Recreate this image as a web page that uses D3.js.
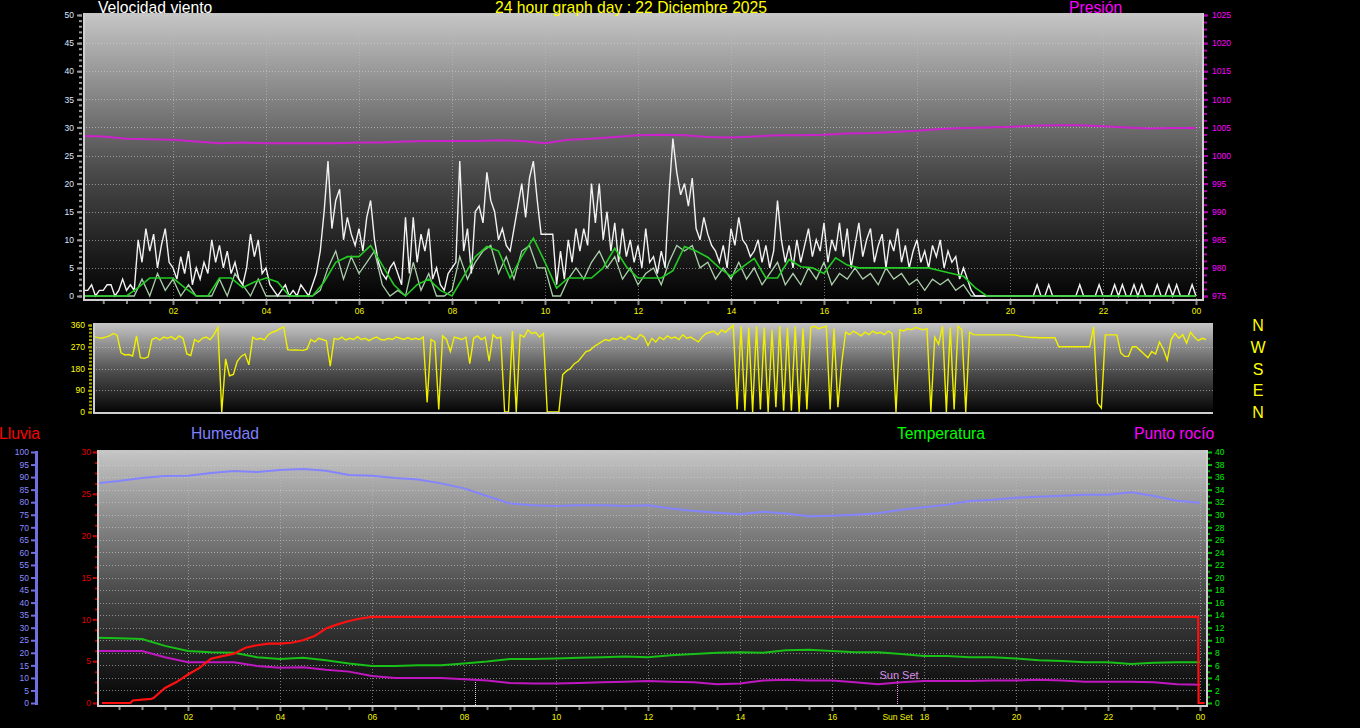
<!DOCTYPE html>
<html><head><meta charset="utf-8">
<script src="https://cdn.jsdelivr.net/npm/d3@7"></script>
<style>html,body{margin:0;padding:0;background:#000;overflow:hidden}svg{display:block}</style>
</head><body><svg id="c" width="1360" height="728"></svg>
<script>
// ---------------- DATA ----------------
const hourTicks = [2,4,6,8,10,12,14,16,18,20,22,24];
const hourLabels = ["02","04","06","08","10","12","14","16","18","20","22","00"];
const windTicks = [0,5,10,15,20,25,30,35,40,45,50];
const pressTicks = [975,980,985,990,995,1000,1005,1010,1015,1020,1025];
const dirTicks = [0,90,180,270,360];
const compass = ["N","W","S","E","N"];
const rainTicks = [0,5,10,15,20,25,30];
const humTicks = [0,5,10,15,20,25,30,35,40,45,50,55,60,65,70,75,80,85,90,95,100];
const tempTicks = [0,2,4,6,8,10,12,14,16,18,20,22,24,26,28,30,32,34,36,38,40];

// wind gust, every 5 minutes (km/h)
const gust = [
 0,1,1,2,0,1,1,2,2,0,1,3,
 1,2,1,10,6,12,8,11,5,9,12,6,
 5,3,7,4,8,2,5,3,6,4,10,6,
 9,5,8,4,6,3,2,5,11,7,10,4,
 5,2,1,0,1,2,0,1,0,2,1,0,
 2,4,8,15,24,12,17,19,10,14,11,9,
 12,8,14,17,10,6,4,3,5,6,4,2,
 14,4,14,6,11,8,12,3,5,2,1,4,
 5,6,24,8,12,4,15,16,13,22,17,15,
 10,12,9,8,12,16,20,14,21,24,17,11,
 11,11,11,2,8,3,10,6,12,8,12,9,
 20,13,20,10,15,8,13,6,12,7,10,6,
 9,5,12,6,7,4,8,5,18,28,22,18,
 20,16,21,12,10,14,11,9,8,6,9,5,
 12,9,14,10,9,7,8,10,6,9,5,8,
 17,10,6,9,5,10,6,9,12,7,10,8,
 13,6,10,8,13,7,12,5,9,13,7,10,
 12,6,9,11,5,10,8,12,6,9,5,8,
 10,6,8,5,9,7,10,5,8,6,7,3,
 5,3,1,0,0,0,0,0,0,0,0,0,
 0,0,0,0,0,0,0,2,0,0,2,0,
 0,0,0,0,0,0,2,0,0,0,0,2,
 0,0,0,2,0,2,0,0,2,0,2,0,
 0,0,2,0,0,2,0,2,0,0,0,2,
 0];
// wind speed, every 10 minutes
const speed = [
 0,0,0,0,0,0, 0,0,3,0,4,1, 3,0,2,0,0,0, 3,0,4,2,0,3,
 0,0,0,0,0,0, 0,1,5,8,3,7, 4,6,8,2,0,1, 0,6,1,4,0,0,
 1,7,3,6,8,9, 4,7,3,8,9,5, 5,0,0,3,5,3, 6,8,5,7,3,5,
 2,4,5,2,6,9, 8,9,5,6,3,5, 3,6,3,5,2,4, 6,2,4,2,5,3,
 6,2,4,3,5,3, 4,2,5,3,4,2, 3,1,3,2,3,1, 2,0,0,0,0,0,
 0,0,0,0,0,0, 0,0,0,0,0,0, 0,0,0,0,0,0, 0,0,0,0,0,0,
 0];
// average wind speed, every 15 minutes
const avgWind = [
 0,0,0,0, 0,1.5,3.2,3.2, 3.2,1.5,0,0, 3.2,3.2,1.5,2.5,
 3.2,2.5,0,0, 0,2.5,6,7, 7,9,5.5,2, 0,2,3,1,
 0,3.5,7,8.8, 8,3.2,7,10.3, 6,1.4,3.2,3.2, 3.2,5,8.5,5.2,
 3.2,3.2,3.2,4.5, 8.8,8,6.9,5, 3.5,5.2,6.7,3.2, 3.2,6.5,5.2,5,
 4,6.8,5.5,5, 5,5,5,5, 5,5,4.5,4, 3.5,1.5,0,0,
 0,0,0,0, 0,0,0,0, 0,0,0,0, 0,0,0,0,
 0];
// pressure, every 30 minutes (hPa)
const pressure = [
 1003.5,1003.4,1003.0,1002.9,1002.8,1002.5,1002.2,1002.3,1002.2,1002.2,1002.2,1002.2,
 1002.3,1002.3,1002.5,1002.6,1002.6,1002.6,1002.7,1002.6,1002.2,1002.8,1003.0,1003.3,
 1003.6,1003.7,1003.6,1003.3,1003.2,1003.4,1003.6,1003.6,1003.7,1003.9,1004.0,1004.2,
 1004.4,1004.7,1004.9,1005.0,1005.1,1005.3,1005.4,1005.4,1005.2,1005.0,1004.8,1004.9,
 1004.9];
// wind direction, every 5 minutes (degrees)
const direction = [
 310,312,308,305,310,315,325,318,245,236,238,232,
 315,225,222,228,300,308,298,310,305,312,300,315,
 305,240,234,300,290,305,310,300,320,350,0,220,
 150,155,210,230,240,195,310,300,305,298,320,330,
 335,345,352,258,256,257,256,255,260,300,290,305,
 300,295,190,305,300,310,298,305,300,312,300,305,
 295,305,310,300,298,305,300,310,305,300,308,300,
 305,300,310,40,300,290,10,315,300,250,310,305,
 300,310,200,305,315,300,310,210,320,305,310,0,
 0,335,0,320,310,340,325,330,310,325,0,0,
 0,0,155,170,180,200,210,230,250,255,270,280,
 290,300,295,305,300,310,300,315,305,300,320,310,
 275,305,290,310,300,315,305,310,300,320,305,310,
 300,290,310,325,330,335,320,340,330,345,358,10,
 355,5,350,0,355,10,350,0,340,20,355,5,
 350,5,355,0,345,10,350,355,345,350,355,10,
 345,20,205,330,320,335,325,315,330,320,335,325,
 330,320,335,325,0,340,335,345,340,350,345,340,
 345,0,310,280,355,0,350,10,355,340,0,330,
 320,319,319,319,319,319,319,319,319,319,319,318,
 314,312,310,308,308,307,307,307,307,307,270,270,
 270,270,270,270,270,270,270,352,37,16,319,319,
 319,319,245,230,230,270,270,255,240,225,250,240,
 290,260,215,300,325,305,320,285,330,310,295,305,
 300];
// humidity, temperature, dew point every 30 minutes
const humidity = [
 87.5,88.4,89.6,90.4,90.5,91.6,92.4,92.0,92.8,93.2,92.5,90.8,90.5,89.6,89.0,87.5,
 85.5,82.5,79.5,78.8,78.5,78.8,78.8,78.5,78.8,77.5,76.5,75.8,75.2,76.2,75.5,74.4,
 74.6,75.0,75.6,77.0,78.0,79.0,80.5,81.0,81.8,82.2,82.6,83.0,83.0,84.0,82.5,80.6,
 79.8];
const temperature = [
 10.4,10.3,10.2,9.1,8.3,8.1,8.0,7.3,7.0,7.2,6.8,6.3,5.9,5.9,6.0,6.0,
 6.3,6.6,7.0,7.0,7.1,7.2,7.3,7.4,7.3,7.6,7.8,8.0,8.1,8.0,8.4,8.5,
 8.3,8.1,8.1,7.8,7.5,7.5,7.3,7.3,7.1,6.8,6.7,6.5,6.5,6.2,6.4,6.5,
 6.5];
const dewPoint = [
 8.3,8.3,8.3,7.3,6.5,6.5,6.5,5.9,5.6,5.7,5.3,5.0,4.3,4.0,4.0,4.0,
 3.8,3.6,3.2,3.1,3.1,3.2,3.3,3.4,3.5,3.4,3.3,3.0,3.1,3.6,3.7,3.6,
 3.6,3.3,3.0,3.3,3.5,3.5,3.5,3.6,3.6,3.7,3.6,3.4,3.4,3.4,3.3,3.0,
 2.9];
// rain accumulation (mm): hour, value
const rainHours = [0.13,0.75,0.8,1.0,1.2,1.25,1.5,1.75,2.0,2.25,2.5,2.75,3.0,3.25,3.5,3.75,4.0,4.25,4.5,4.75,5.0,5.25,5.5,5.75,6.0,6.25,23.96,23.97,24.1];
const rainValues = [0,0,0.3,0.4,0.5,0.6,1.8,2.5,3.4,4.2,5.3,5.6,5.9,6.6,6.9,7.1,7.1,7.2,7.5,8.0,8.9,9.4,9.8,10.1,10.3,10.3,10.3,0,0];
const sunSetHour = 17.41;
const sunRiseHour = 8.24;

// ---------------- DRAW ----------------
const svg = d3.select("#c");
const defs = svg.append("defs");
const grad = defs.append("linearGradient").attr("id","bg").attr("x1",0).attr("y1",0).attr("x2",0).attr("y2",1);
grad.append("stop").attr("offset","0%").attr("stop-color","#c6c6c6");
grad.append("stop").attr("offset","55%").attr("stop-color","#4a4a4a");
grad.append("stop").attr("offset","100%").attr("stop-color","#020202");

const FONT = "'Liberation Sans', Arial, sans-serif";

function panel(id, x0, y0, x1, y1) {
  defs.append("clipPath").attr("id", id).append("rect")
    .attr("x", x0).attr("y", y0).attr("width", x1 - x0).attr("height", y1 - y0);
  svg.append("rect").attr("x", x0).attr("y", y0).attr("width", x1 - x0).attr("height", y1 - y0)
    .attr("fill", "url(#bg)");
  return svg.append("g").attr("clip-path", `url(#${id})`);
}
function frame(x0, y0, x1, y1, right) {
  const g = svg.append("g").attr("stroke", "#cfcfcf").attr("stroke-width", 2).attr("fill", "none");
  g.append("line").attr("x1", x0 + 1).attr("x2", x0 + 1).attr("y1", y0).attr("y2", y1);
  g.append("line").attr("x1", x0).attr("x2", x1).attr("y1", y1 - 1).attr("y2", y1 - 1);
  if (right) g.append("line").attr("x1", x1 - 1).attr("x2", x1 - 1).attr("y1", y0).attr("y2", y1);
}
function hGrid(g, scale, vals, x0, x1) {
  g.selectAll(null).data(vals).join("line")
    .attr("x1", x0).attr("x2", x1).attr("y1", d => Math.round(scale(d)) + 0.5).attr("y2", d => Math.round(scale(d)) + 0.5)
    .attr("stroke", "#d8d8d8").attr("stroke-opacity", 0.55).attr("stroke-dasharray", "1,2");
}
function vGrid(g, scale, y0, y1) {
  g.selectAll(null).data(hourTicks).join("line")
    .attr("x1", d => Math.round(scale(d)) + 0.5).attr("x2", d => Math.round(scale(d)) + 0.5).attr("y1", y0).attr("y2", y1)
    .attr("stroke", "#bdbdbd").attr("stroke-opacity", 0.6).attr("stroke-dasharray", "1,2");
}
function styleAxis(g, tickColor, textColor, fontSize) {
  g.select(".domain").remove();
  g.selectAll(".tick line").attr("stroke", tickColor).attr("stroke-width", 2);
  g.selectAll(".tick text").attr("fill", textColor).attr("font-family", FONT).attr("font-size", fontSize);
}
function minorAxis(axisFn, scale, x, vals, color, size) {
  const g = svg.append("g").attr("transform", `translate(${x},0)`)
    .call(axisFn(scale).tickValues(vals).tickSize(size).tickFormat(""));
  g.select(".domain").remove();
  g.selectAll(".tick line").attr("stroke", color).attr("stroke-width", 2);
}
function xAxis(scale, y, labels) {
  const g = svg.append("g").attr("transform", `translate(0,${y})`)
    .call(d3.axisBottom(scale).tickValues(hourTicks).tickSize(4).tickPadding(3).tickFormat((d, i) => labels[i]));
  styleAxis(g, "#8a8a8a", "#f4f400", "8.5px");
  const halves = d3.range(0.5, 24.01, 0.5).filter(h => h % 2 !== 0);
  const m = svg.append("g").attr("transform", `translate(0,${y})`)
    .call(d3.axisBottom(scale).tickValues(halves).tickSize(3).tickFormat(""));
  m.select(".domain").remove();
  m.selectAll(".tick line").attr("stroke", "#8a8a8a").attr("stroke-width", 2);
}
function title(x, y, txt, color, anchor) {
  svg.append("text").attr("x", x).attr("y", y).text(txt).attr("fill", color)
    .attr("font-family", FONT).attr("font-size", "15.7px").attr("text-anchor", anchor || "start");
}
const intFmt = d3.format("d");

// ===== TOP PANEL (wind + pressure) =====
const T = {x0: 83, y0: 13, x1: 1204, y1: 301};
const xTop = d3.scaleLinear([0, 24], [80, 1196]);
const yWind = d3.scaleLinear([0, 50], [296, 15]);
const yPress = d3.scaleLinear([975, 1025], [296, 15]);
const gTop = panel("cTop", T.x0, T.y0, T.x1, T.y1);
hGrid(gTop, yWind, windTicks.slice(1), T.x0, T.x1);
vGrid(gTop, xTop, T.y0, T.y1);

const lineP = d3.line().x((d, i) => xTop(i * 0.5)).y(d => yPress(d));
gTop.append("path").attr("d", lineP(pressure)).attr("fill", "none").attr("stroke", "#cc22cc").attr("stroke-width", 2);
const lineS = d3.line().x((d, i) => xTop(i / 6)).y(d => yWind(d));
gTop.append("path").attr("d", lineS(speed)).attr("fill", "none").attr("stroke", "#c4f0c4").attr("stroke-opacity", 0.85).attr("stroke-width", 1.3);
const lineG = d3.line().x((d, i) => xTop(i / 12)).y(d => yWind(d));
gTop.append("path").attr("d", lineG(gust)).attr("fill", "none").attr("stroke", "#f2f2f2").attr("stroke-width", 1.4);
const lineA = d3.line().x((d, i) => xTop(i / 4)).y(d => yWind(d));
gTop.append("path").attr("d", lineA(avgWind)).attr("fill", "none").attr("stroke", "#22cc22").attr("stroke-width", 1.6);
frame(T.x0, T.y0, T.x1, T.y1, true);

let ax = svg.append("g").attr("transform", "translate(82,0)")
  .call(d3.axisLeft(yWind).tickValues(windTicks).tickSize(5).tickPadding(3).tickFormat(intFmt));
styleAxis(ax, "#9a9a9a", "#dde6ff", "8.5px");
minorAxis(d3.axisLeft, yWind, 82, d3.range(0, 50.1, 1), "#9a9a9a", 3);
ax = svg.append("g").attr("transform", "translate(1204,0)")
  .call(d3.axisRight(yPress).tickValues(pressTicks).tickSize(4).tickPadding(4).tickFormat(intFmt));
styleAxis(ax, "#b000b0", "#ff00ff", "8.5px");
minorAxis(d3.axisRight, yPress, 1204, d3.range(975, 1025.1, 1.25), "#b000b0", 3);
xAxis(xTop, 301, hourLabels);

title(98, 13, "Velocidad viento", "#ffffff");
title(631, 13, "24 hour graph day : 22 Diciembre 2025", "#ffff00", "middle");
title(1069, 13, "Presión", "#ff00ff");

// ===== MIDDLE PANEL (direction) =====
const M = {x0: 93, y0: 323, x1: 1213, y1: 414};
const xMid = d3.scaleLinear([0, 24], [90, 1206]);
const yDir = d3.scaleLinear([0, 360], [412, 325]);
const gMid = panel("cMid", M.x0, M.y0, M.x1, M.y1);
hGrid(gMid, yDir, [90, 180, 270], M.x0, M.x1);
const lineD = d3.line().x((d, i) => xMid(i / 12)).y(d => yDir(d));
gMid.append("path").attr("d", lineD(direction)).attr("fill", "none").attr("stroke", "#f0f000").attr("stroke-width", 1.4);
frame(M.x0, M.y0, M.x1, M.y1, false);
ax = svg.append("g").attr("transform", "translate(92,0)")
  .call(d3.axisLeft(yDir).tickValues(dirTicks).tickSize(4).tickPadding(3).tickFormat(intFmt));
styleAxis(ax, "#a8a800", "#ffff00", "8.5px");
minorAxis(d3.axisLeft, yDir, 92, d3.range(0, 360.1, 15), "#a8a800", 3);
svg.selectAll(null).data(compass).join("text")
  .attr("x", 1258).attr("y", (d, i) => 331 + i * 21.8).attr("text-anchor", "middle")
  .attr("fill", "#ffff00").attr("font-family", FONT).attr("font-size", "16px").text(d => d);

// ===== BOTTOM PANEL (rain, humidity, temperature, dew point) =====
const B = {x0: 97, y0: 450, x1: 1208, y1: 707};
const xBot = d3.scaleLinear([0, 24], [96, 1200]);
const yRain = d3.scaleLinear([0, 30], [703, 452]);
const yHum = d3.scaleLinear([0, 100], [703, 452]);
const yTemp = d3.scaleLinear([0, 40], [703, 452]);
const gBot = panel("cBot", B.x0, B.y0, B.x1, B.y1);
hGrid(gBot, yTemp, tempTicks.slice(1), B.x0, B.x1);
vGrid(gBot, xBot, B.y0, B.y1);

gBot.append("line").attr("x1", Math.round(xBot(sunRiseHour)) + 0.5).attr("x2", Math.round(xBot(sunRiseHour)) + 0.5)
  .attr("y1", 682).attr("y2", 705).attr("stroke", "#d8d8e8").attr("stroke-width", 1).attr("stroke-dasharray", "1,1");
gBot.append("line").attr("x1", Math.round(xBot(sunSetHour)) + 0.5).attr("x2", Math.round(xBot(sunSetHour)) + 0.5)
  .attr("y1", 681).attr("y2", 705).attr("stroke", "#e890e8").attr("stroke-width", 1).attr("stroke-dasharray", "1,1");

const lineH = d3.line().x((d, i) => xBot(i * 0.5)).y(d => yHum(d));
gBot.append("path").attr("d", lineH(humidity)).attr("fill", "none").attr("stroke", "#8484ff").attr("stroke-width", 2);
const lineT = d3.line().x((d, i) => xBot(i * 0.5)).y(d => yTemp(d));
gBot.append("path").attr("d", lineT(temperature)).attr("fill", "none").attr("stroke", "#18c018").attr("stroke-width", 2);
gBot.append("path").attr("d", lineT(dewPoint)).attr("fill", "none").attr("stroke", "#c018c0").attr("stroke-width", 2);
const lineR = d3.line().x((d, i) => xBot(rainHours[i])).y(d => yRain(d));
gBot.append("path").attr("d", lineR(rainValues)).attr("fill", "none").attr("stroke", "#ff1010").attr("stroke-width", 2.2);
gBot.append("text").attr("x", Math.round(xBot(sunSetHour)) + 2).attr("y", 679).attr("text-anchor", "middle")
  .attr("fill", "#d990e6").attr("font-family", FONT).attr("font-size", "11px").text("Sun Set");
frame(B.x0, B.y0, B.x1, B.y1, true);

ax = svg.append("g").attr("transform", "translate(97,0)")
  .call(d3.axisLeft(yRain).tickValues(rainTicks).tickSize(4).tickPadding(2).tickFormat(intFmt));
styleAxis(ax, "#e00000", "#e00000", "8.5px");
minorAxis(d3.axisLeft, yRain, 97, d3.range(0, 30.1, 1.25), "#b00000", 2);

svg.append("line").attr("x1", 36.5).attr("x2", 36.5).attr("y1", 451).attr("y2", 705)
  .attr("stroke", "#7070e0").attr("stroke-width", 3);
ax = svg.append("g").attr("transform", "translate(35,0)")
  .call(d3.axisLeft(yHum).tickValues(humTicks).tickSize(4).tickPadding(2).tickFormat(intFmt));
styleAxis(ax, "#7070e0", "#8c8cff", "8.5px");

ax = svg.append("g").attr("transform", "translate(1208,0)")
  .call(d3.axisRight(yTemp).tickValues(tempTicks).tickSize(4).tickPadding(3).tickFormat(intFmt));
styleAxis(ax, "#00c000", "#00ee00", "8.5px");
minorAxis(d3.axisRight, yTemp, 1208, d3.range(1, 40, 2), "#00a000", 2);

xAxis(xBot, 707, hourLabels);
svg.append("text").attr("x", Math.round(xBot(sunSetHour)) + 0.5).attr("y", 720).attr("text-anchor", "middle")
  .attr("fill", "#f4f400").attr("font-family", FONT).attr("font-size", "8.5px").text("Sun Set");

title(40, 439, "Lluvia", "#ff0000", "end");
title(191, 439, "Humedad", "#8080ff");
title(897, 439, "Temperatura", "#00ff00");
title(1134, 439, "Punto rocío", "#ff00ff");
</script>
</body></html>
